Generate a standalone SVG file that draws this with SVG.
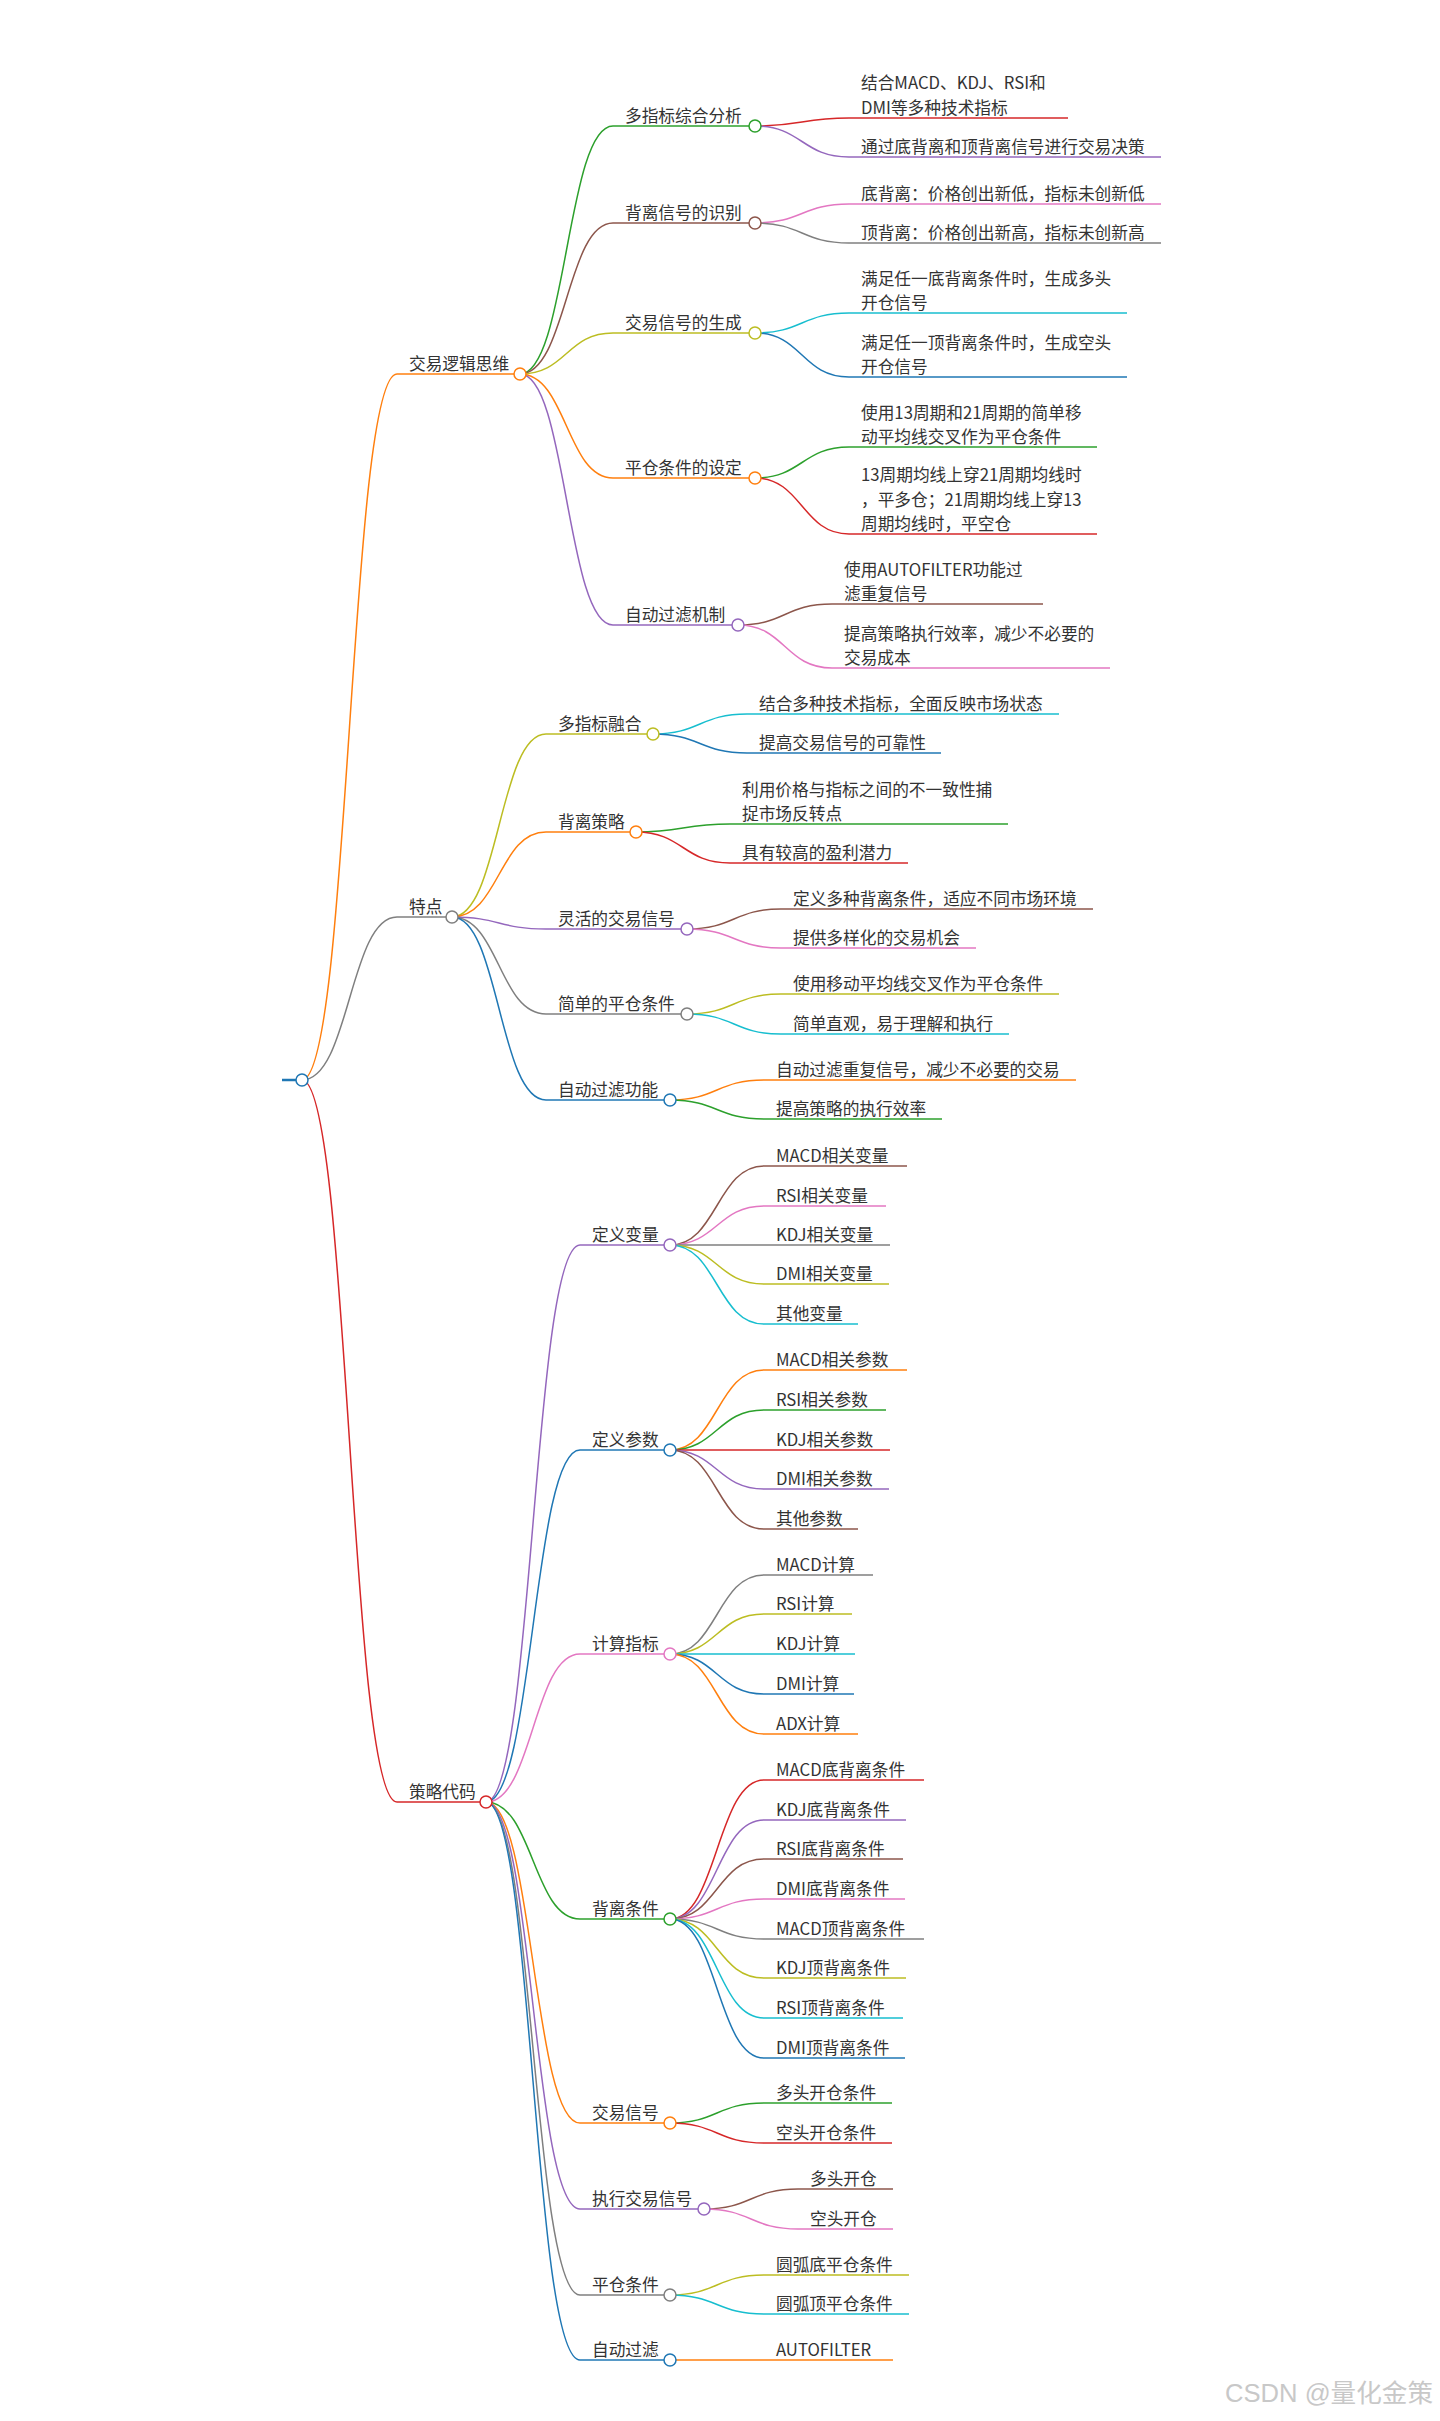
<svg xmlns="http://www.w3.org/2000/svg" width="1440" height="2421" viewBox="0 0 1440 2421">
<style>
.l{fill:none;stroke-width:1.5}
.u{fill:none;stroke-width:1.5}
.w{stroke-width:2.5}
circle{fill:#fff;stroke-width:1.5}
text{font-family:"Noto Sans CJK SC","Noto Sans",sans-serif;font-size:16.7px;fill:#333;stroke:none}
.bl{stroke:#1f77b4}.or{stroke:#ff7f0e}.gr{stroke:#2ca02c}.rd{stroke:#d62728}.pu{stroke:#9467bd}
.br{stroke:#8c564b}.pk{stroke:#e377c2}.gy{stroke:#7f7f7f}.yg{stroke:#bcbd22}.cy{stroke:#17becf}
.wm{font-family:"Liberation Sans","Noto Sans CJK SC",sans-serif;font-size:25px;fill:#c8c8c8}
</style>
<rect width="1440" height="2421" fill="#fff"/>
<g id="connectors" class="l">
<path class="or" d="M302 1080C349.5 1080 349.5 374 397 374"/>
<path class="gy" d="M302 1080C349.5 1080 349.5 917 397 917"/>
<path class="rd" d="M302 1080C349.5 1080 349.5 1802 397 1802"/>
<path class="gr" d="M520 374C566.5 374 566.5 126 613 126"/>
<path class="br" d="M520 374C566.5 374 566.5 223 613 223"/>
<path class="yg" d="M520 374C566.5 374 566.5 333 613 333"/>
<path class="or" d="M520 374C566.5 374 566.5 478 613 478"/>
<path class="pu" d="M520 374C566.5 374 566.5 625 613 625"/>
<path class="rd" d="M755 126C802 126 802 118 849 118"/>
<path class="pu" d="M755 126C802 126 802 157 849 157"/>
<path class="pk" d="M755 223C802 223 802 204 849 204"/>
<path class="gy" d="M755 223C802 223 802 243 849 243"/>
<path class="cy" d="M755 333C802 333 802 313 849 313"/>
<path class="bl" d="M755 333C802 333 802 377 849 377"/>
<path class="gr" d="M755 478C802 478 802 447 849 447"/>
<path class="rd" d="M755 478C802 478 802 534 849 534"/>
<path class="br" d="M738 625C785 625 785 604 832 604"/>
<path class="pk" d="M738 625C785 625 785 668 832 668"/>
<path class="yg" d="M452 917C499 917 499 734 546 734"/>
<path class="or" d="M452 917C499 917 499 832 546 832"/>
<path class="pu" d="M452 917C499 917 499 929 546 929"/>
<path class="gy" d="M452 917C499 917 499 1014 546 1014"/>
<path class="bl" d="M452 917C499 917 499 1100 546 1100"/>
<path class="cy" d="M653 734C700 734 700 714 747 714"/>
<path class="bl" d="M653 734C700 734 700 753 747 753"/>
<path class="gr" d="M636 832C683 832 683 824 730 824"/>
<path class="rd" d="M636 832C683 832 683 863 730 863"/>
<path class="br" d="M687 929C734 929 734 909 781 909"/>
<path class="pk" d="M687 929C734 929 734 948 781 948"/>
<path class="yg" d="M687 1014C734 1014 734 994 781 994"/>
<path class="cy" d="M687 1014C734 1014 734 1034 781 1034"/>
<path class="or" d="M670 1100C717 1100 717 1080 764 1080"/>
<path class="gr" d="M670 1100C717 1100 717 1119 764 1119"/>
<path class="pu" d="M486 1802C533 1802 533 1245 580 1245"/>
<path class="bl" d="M486 1802C533 1802 533 1450 580 1450"/>
<path class="pk" d="M486 1802C533 1802 533 1654 580 1654"/>
<path class="gr" d="M486 1802C533 1802 533 1919 580 1919"/>
<path class="or" d="M486 1802C533 1802 533 2123 580 2123"/>
<path class="pu" d="M486 1802C533 1802 533 2209 580 2209"/>
<path class="gy" d="M486 1802C533 1802 533 2295 580 2295"/>
<path class="bl" d="M486 1802C533 1802 533 2360 580 2360"/>
<path class="br" d="M670 1245C717 1245 717 1166 764 1166"/>
<path class="pk" d="M670 1245C717 1245 717 1206 764 1206"/>
<path class="gy" d="M670 1245C717 1245 717 1245 764 1245"/>
<path class="yg" d="M670 1245C717 1245 717 1284 764 1284"/>
<path class="cy" d="M670 1245C717 1245 717 1324 764 1324"/>
<path class="or" d="M670 1450C717 1450 717 1370 764 1370"/>
<path class="gr" d="M670 1450C717 1450 717 1410 764 1410"/>
<path class="rd" d="M670 1450C717 1450 717 1450 764 1450"/>
<path class="pu" d="M670 1450C717 1450 717 1489 764 1489"/>
<path class="br" d="M670 1450C717 1450 717 1529 764 1529"/>
<path class="gy" d="M670 1654C717 1654 717 1575 764 1575"/>
<path class="yg" d="M670 1654C717 1654 717 1614 764 1614"/>
<path class="cy" d="M670 1654C717 1654 717 1654 764 1654"/>
<path class="bl" d="M670 1654C717 1654 717 1694 764 1694"/>
<path class="or" d="M670 1654C717 1654 717 1734 764 1734"/>
<path class="rd" d="M670 1919C717 1919 717 1780 764 1780"/>
<path class="pu" d="M670 1919C717 1919 717 1820 764 1820"/>
<path class="br" d="M670 1919C717 1919 717 1859 764 1859"/>
<path class="pk" d="M670 1919C717 1919 717 1899 764 1899"/>
<path class="gy" d="M670 1919C717 1919 717 1939 764 1939"/>
<path class="yg" d="M670 1919C717 1919 717 1978 764 1978"/>
<path class="cy" d="M670 1919C717 1919 717 2018 764 2018"/>
<path class="bl" d="M670 1919C717 1919 717 2058 764 2058"/>
<path class="gr" d="M670 2123C717 2123 717 2103 764 2103"/>
<path class="rd" d="M670 2123C717 2123 717 2143 764 2143"/>
<path class="br" d="M704 2209C751 2209 751 2189 798 2189"/>
<path class="pk" d="M704 2209C751 2209 751 2229 798 2229"/>
<path class="yg" d="M670 2295C717 2295 717 2275 764 2275"/>
<path class="cy" d="M670 2295C717 2295 717 2314 764 2314"/>
<path class="or" d="M670 2360C717 2360 717 2360 764 2360"/>
</g>
<g id="nodes">
<g id="root" class="bl"><path class="u w" d="M282 1080H302"/><circle cx="302" cy="1080" r="6"/></g>
<g id="n1" class="or"><path class="u" d="M397 374H520"/><circle cx="520" cy="374" r="6"/><text x="409" y="370">交易逻辑思维</text></g>
<g id="n1-1" class="gr"><path class="u" d="M613 126H755"/><circle cx="755" cy="126" r="6"/><text x="625" y="122">多指标综合分析</text></g>
<g id="n1-1-1" class="rd"><path class="u" d="M849 118H1068"/><text x="861" y="89">结合MACD、KDJ、RSI和</text><text x="861" y="114">DMI等多种技术指标</text></g>
<g id="n1-1-2" class="pu"><path class="u" d="M849 157H1161"/><text x="861" y="153">通过底背离和顶背离信号进行交易决策</text></g>
<g id="n1-2" class="br"><path class="u" d="M613 223H755"/><circle cx="755" cy="223" r="6"/><text x="625" y="219">背离信号的识别</text></g>
<g id="n1-2-1" class="pk"><path class="u" d="M849 204H1161"/><text x="861" y="200">底背离：价格创出新低，指标未创新低</text></g>
<g id="n1-2-2" class="gy"><path class="u" d="M849 243H1161"/><text x="861" y="239">顶背离：价格创出新高，指标未创新高</text></g>
<g id="n1-3" class="yg"><path class="u" d="M613 333H755"/><circle cx="755" cy="333" r="6"/><text x="625" y="329">交易信号的生成</text></g>
<g id="n1-3-1" class="cy"><path class="u" d="M849 313H1127"/><text x="861" y="284.5">满足任一底背离条件时，生成多头</text><text x="861" y="309">开仓信号</text></g>
<g id="n1-3-2" class="bl"><path class="u" d="M849 377H1127"/><text x="861" y="348.5">满足任一顶背离条件时，生成空头</text><text x="861" y="373">开仓信号</text></g>
<g id="n1-4" class="or"><path class="u" d="M613 478H755"/><circle cx="755" cy="478" r="6"/><text x="625" y="474">平仓条件的设定</text></g>
<g id="n1-4-1" class="gr"><path class="u" d="M849 447H1097"/><text x="861" y="418.5">使用13周期和21周期的简单移</text><text x="861" y="443">动平均线交叉作为平仓条件</text></g>
<g id="n1-4-2" class="rd"><path class="u" d="M849 534H1097"/><text x="861" y="481">13周期均线上穿21周期均线时</text><text x="861" y="505.5">，平多仓；21周期均线上穿13</text><text x="861" y="530">周期均线时，平空仓</text></g>
<g id="n1-5" class="pu"><path class="u" d="M613 625H738"/><circle cx="738" cy="625" r="6"/><text x="625" y="621">自动过滤机制</text></g>
<g id="n1-5-1" class="br"><path class="u" d="M832 604H1043"/><text x="844" y="575.5">使用AUTOFILTER功能过</text><text x="844" y="600">滤重复信号</text></g>
<g id="n1-5-2" class="pk"><path class="u" d="M832 668H1110"/><text x="844" y="639.5">提高策略执行效率，减少不必要的</text><text x="844" y="664">交易成本</text></g>
<g id="n2" class="gy"><path class="u" d="M397 917H452"/><circle cx="452" cy="917" r="6"/><text x="409" y="913">特点</text></g>
<g id="n2-1" class="yg"><path class="u" d="M546 734H653"/><circle cx="653" cy="734" r="6"/><text x="558" y="730">多指标融合</text></g>
<g id="n2-1-1" class="cy"><path class="u" d="M747 714H1059"/><text x="759" y="710">结合多种技术指标，全面反映市场状态</text></g>
<g id="n2-1-2" class="bl"><path class="u" d="M747 753H941"/><text x="759" y="749">提高交易信号的可靠性</text></g>
<g id="n2-2" class="or"><path class="u" d="M546 832H636"/><circle cx="636" cy="832" r="6"/><text x="558" y="828">背离策略</text></g>
<g id="n2-2-1" class="gr"><path class="u" d="M730 824H1008"/><text x="742" y="795.5">利用价格与指标之间的不一致性捕</text><text x="742" y="820">捉市场反转点</text></g>
<g id="n2-2-2" class="rd"><path class="u" d="M730 863H908"/><text x="742" y="859">具有较高的盈利潜力</text></g>
<g id="n2-3" class="pu"><path class="u" d="M546 929H687"/><circle cx="687" cy="929" r="6"/><text x="558" y="925">灵活的交易信号</text></g>
<g id="n2-3-1" class="br"><path class="u" d="M781 909H1093"/><text x="793" y="905">定义多种背离条件，适应不同市场环境</text></g>
<g id="n2-3-2" class="pk"><path class="u" d="M781 948H976"/><text x="793" y="944">提供多样化的交易机会</text></g>
<g id="n2-4" class="gy"><path class="u" d="M546 1014H687"/><circle cx="687" cy="1014" r="6"/><text x="558" y="1010">简单的平仓条件</text></g>
<g id="n2-4-1" class="yg"><path class="u" d="M781 994H1059"/><text x="793" y="990">使用移动平均线交叉作为平仓条件</text></g>
<g id="n2-4-2" class="cy"><path class="u" d="M781 1034H1009"/><text x="793" y="1030">简单直观，易于理解和执行</text></g>
<g id="n2-5" class="bl"><path class="u" d="M546 1100H670"/><circle cx="670" cy="1100" r="6"/><text x="558" y="1096">自动过滤功能</text></g>
<g id="n2-5-1" class="or"><path class="u" d="M764 1080H1076"/><text x="776" y="1076">自动过滤重复信号，减少不必要的交易</text></g>
<g id="n2-5-2" class="gr"><path class="u" d="M764 1119H942"/><text x="776" y="1115">提高策略的执行效率</text></g>
<g id="n3" class="rd"><path class="u" d="M397 1802H486"/><circle cx="486" cy="1802" r="6"/><text x="409" y="1798">策略代码</text></g>
<g id="n3-1" class="pu"><path class="u" d="M580 1245H670"/><circle cx="670" cy="1245" r="6"/><text x="592" y="1241">定义变量</text></g>
<g id="n3-1-1" class="br"><path class="u" d="M764 1166H907"/><text x="776" y="1162">MACD相关变量</text></g>
<g id="n3-1-2" class="pk"><path class="u" d="M764 1206H886"/><text x="776" y="1202">RSI相关变量</text></g>
<g id="n3-1-3" class="gy"><path class="u" d="M764 1245H890"/><text x="776" y="1241">KDJ相关变量</text></g>
<g id="n3-1-4" class="yg"><path class="u" d="M764 1284H889"/><text x="776" y="1280">DMI相关变量</text></g>
<g id="n3-1-5" class="cy"><path class="u" d="M764 1324H858"/><text x="776" y="1320">其他变量</text></g>
<g id="n3-2" class="bl"><path class="u" d="M580 1450H670"/><circle cx="670" cy="1450" r="6"/><text x="592" y="1446">定义参数</text></g>
<g id="n3-2-1" class="or"><path class="u" d="M764 1370H907"/><text x="776" y="1366">MACD相关参数</text></g>
<g id="n3-2-2" class="gr"><path class="u" d="M764 1410H886"/><text x="776" y="1406">RSI相关参数</text></g>
<g id="n3-2-3" class="rd"><path class="u" d="M764 1450H890"/><text x="776" y="1446">KDJ相关参数</text></g>
<g id="n3-2-4" class="pu"><path class="u" d="M764 1489H889"/><text x="776" y="1485">DMI相关参数</text></g>
<g id="n3-2-5" class="br"><path class="u" d="M764 1529H858"/><text x="776" y="1525">其他参数</text></g>
<g id="n3-3" class="pk"><path class="u" d="M580 1654H670"/><circle cx="670" cy="1654" r="6"/><text x="592" y="1650">计算指标</text></g>
<g id="n3-3-1" class="gy"><path class="u" d="M764 1575H873"/><text x="776" y="1571">MACD计算</text></g>
<g id="n3-3-2" class="yg"><path class="u" d="M764 1614H852"/><text x="776" y="1610">RSI计算</text></g>
<g id="n3-3-3" class="cy"><path class="u" d="M764 1654H855"/><text x="776" y="1650">KDJ计算</text></g>
<g id="n3-3-4" class="bl"><path class="u" d="M764 1694H854"/><text x="776" y="1690">DMI计算</text></g>
<g id="n3-3-5" class="or"><path class="u" d="M764 1734H858"/><text x="776" y="1730">ADX计算</text></g>
<g id="n3-4" class="gr"><path class="u" d="M580 1919H670"/><circle cx="670" cy="1919" r="6"/><text x="592" y="1915">背离条件</text></g>
<g id="n3-4-1" class="rd"><path class="u" d="M764 1780H924"/><text x="776" y="1776">MACD底背离条件</text></g>
<g id="n3-4-2" class="pu"><path class="u" d="M764 1820H906"/><text x="776" y="1816">KDJ底背离条件</text></g>
<g id="n3-4-3" class="br"><path class="u" d="M764 1859H903"/><text x="776" y="1855">RSI底背离条件</text></g>
<g id="n3-4-4" class="pk"><path class="u" d="M764 1899H905"/><text x="776" y="1895">DMI底背离条件</text></g>
<g id="n3-4-5" class="gy"><path class="u" d="M764 1939H924"/><text x="776" y="1935">MACD顶背离条件</text></g>
<g id="n3-4-6" class="yg"><path class="u" d="M764 1978H906"/><text x="776" y="1974">KDJ顶背离条件</text></g>
<g id="n3-4-7" class="cy"><path class="u" d="M764 2018H903"/><text x="776" y="2014">RSI顶背离条件</text></g>
<g id="n3-4-8" class="bl"><path class="u" d="M764 2058H905"/><text x="776" y="2054">DMI顶背离条件</text></g>
<g id="n3-5" class="or"><path class="u" d="M580 2123H670"/><circle cx="670" cy="2123" r="6"/><text x="592" y="2119">交易信号</text></g>
<g id="n3-5-1" class="gr"><path class="u" d="M764 2103H892"/><text x="776" y="2099">多头开仓条件</text></g>
<g id="n3-5-2" class="rd"><path class="u" d="M764 2143H892"/><text x="776" y="2139">空头开仓条件</text></g>
<g id="n3-6" class="pu"><path class="u" d="M580 2209H704"/><circle cx="704" cy="2209" r="6"/><text x="592" y="2205">执行交易信号</text></g>
<g id="n3-6-1" class="br"><path class="u" d="M798 2189H893"/><text x="810" y="2185">多头开仓</text></g>
<g id="n3-6-2" class="pk"><path class="u" d="M798 2229H893"/><text x="810" y="2225">空头开仓</text></g>
<g id="n3-7" class="gy"><path class="u" d="M580 2295H670"/><circle cx="670" cy="2295" r="6"/><text x="592" y="2291">平仓条件</text></g>
<g id="n3-7-1" class="yg"><path class="u" d="M764 2275H909"/><text x="776" y="2271">圆弧底平仓条件</text></g>
<g id="n3-7-2" class="cy"><path class="u" d="M764 2314H909"/><text x="776" y="2310">圆弧顶平仓条件</text></g>
<g id="n3-8" class="bl"><path class="u" d="M580 2360H670"/><circle cx="670" cy="2360" r="6"/><text x="592" y="2356">自动过滤</text></g>
<g id="n3-8-1" class="or"><path class="u" d="M764 2360H893"/><text x="776" y="2356">AUTOFILTER</text></g>
</g>
<text class="wm" x="1225" y="2402" textLength="208" lengthAdjust="spacingAndGlyphs">CSDN @量化金策</text>
</svg>
